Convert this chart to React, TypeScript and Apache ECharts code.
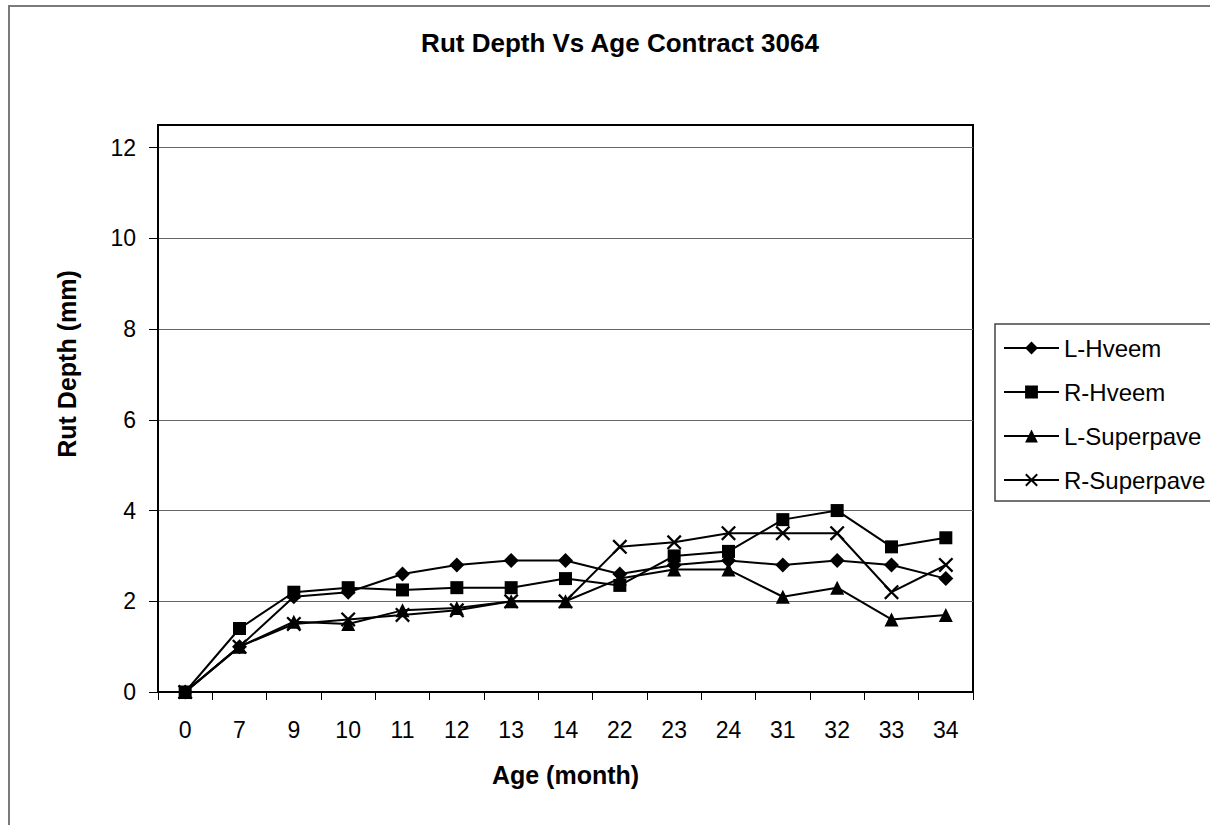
import React, { useEffect, useRef } from "react";
import * as echarts from "echarts";

// Age of the pavement sections (months since construction)
const ages = ["0", "7", "9", "10", "11", "12", "13", "14", "22", "23", "24", "31", "32", "33", "34"];

// Rut depth (mm) per section
const lHveem = [0, 1.0, 2.1, 2.2, 2.6, 2.8, 2.9, 2.9, 2.6, 2.8, 2.9, 2.8, 2.9, 2.8, 2.5];
const rHveem = [0, 1.4, 2.2, 2.3, 2.25, 2.3, 2.3, 2.5, 2.35, 3.0, 3.1, 3.8, 4.0, 3.2, 3.4];
const lSuperpave = [0, 1.0, 1.55, 1.5, 1.8, 1.85, 2.0, 2.0, 2.5, 2.7, 2.7, 2.1, 2.3, 1.6, 1.7];
const rSuperpave = [0, 1.0, 1.5, 1.6, 1.7, 1.8, 2.0, 2.0, 3.2, 3.3, 3.5, 3.5, 3.5, 2.2, 2.8];

const seriesNames = ["L-Hveem", "R-Hveem", "L-Superpave", "R-Superpave"];
const yTickValues = [0, 2, 4, 6, 8, 10, 12];

const FONT = "'Liberation Sans', Arial, sans-serif";
const CROSS =
  "path://M0,1.3L1.3,0L6,4.7L10.7,0L12,1.3L7.3,6L12,10.7L10.7,12L6,7.3L1.3,12L0,10.7L4.7,6Z";

export default function App() {
  const ref = useRef<HTMLDivElement>(null);

  useEffect(() => {
    if (!ref.current) return;
    const chart = echarts.init(ref.current, null, { renderer: "svg" });

    const markers = [
      { symbol: "diamond", size: 15 },
      { symbol: "rect", size: 13 },
      { symbol: "triangle", size: 14 },
      { symbol: CROSS, size: 15 },
    ];
    const values = [lHveem, rHveem, lSuperpave, rSuperpave];

    chart.setOption({
      animation: false,
      backgroundColor: "#ffffff",
      textStyle: { fontFamily: FONT, color: "#000" },
      graphic: [
        {
          type: "rect",
          shape: { x: 9, y: 6, width: 1400, height: 1000 },
          style: { fill: "none", stroke: "#7a7a7a", lineWidth: 2 },
          silent: true,
        },
        {
          type: "text",
          x: 620,
          y: 43,
          style: {
            text: "Rut Depth Vs Age Contract 3064",
            fontFamily: FONT,
            fontSize: 26,
            fontWeight: "bold",
            fill: "#000",
            align: "center",
            verticalAlign: "middle",
          },
        },
        {
          type: "text",
          x: 67,
          y: 364,
          rotation: Math.PI / 2,
          style: {
            text: "Rut Depth (mm)",
            fontFamily: FONT,
            fontSize: 25,
            fontWeight: "bold",
            fill: "#000",
            align: "center",
            verticalAlign: "middle",
          },
        },
      ],
      legend: {
        orient: "vertical",
        left: 995,
        top: 324,
        padding: [12, 30, 9, 8],
        itemGap: 20,
        itemWidth: 55,
        itemHeight: 16,
        borderColor: "#444",
        borderWidth: 1.5,
        backgroundColor: "#fff",
        textStyle: { fontFamily: FONT, fontSize: 24, color: "#000" },
        data: seriesNames,
      },
      grid: {
        left: 158,
        right: 237,
        top: 125,
        bottom: 133,
        show: true,
        borderColor: "#000",
        borderWidth: 2,
        backgroundColor: "#fff",
      },
      xAxis: {
        type: "category",
        data: ages,
        boundaryGap: true,
        name: "Age (month)",
        nameLocation: "middle",
        nameGap: 70,
        nameTextStyle: { fontFamily: FONT, fontSize: 25, fontWeight: "bold", color: "#000" },
        axisLine: { lineStyle: { color: "#000", width: 2 } },
        axisTick: { show: true, length: 8, lineStyle: { color: "#000", width: 1 } },
        axisLabel: { fontFamily: FONT, fontSize: 23, color: "#000", margin: 26 },
        splitLine: { show: false },
      },
      yAxis: {
        type: "value",
        min: 0,
        max: 12.5,
        interval: 2,
        axisLine: { show: true, lineStyle: { color: "#000", width: 2 } },
        axisTick: {
          show: true,
          length: 9,
          customValues: yTickValues,
          lineStyle: { color: "#000", width: 1 },
        },
        axisLabel: {
          fontFamily: FONT,
          fontSize: 23,
          color: "#000",
          margin: 22,
          customValues: yTickValues,
        },
        splitLine: { show: true, lineStyle: { color: "#666", width: 1 } },
      },
      series: seriesNames.map((name, i) => ({
        name,
        type: "line",
        data: values[i],
        symbol: markers[i].symbol,
        symbolSize: markers[i].size,
        showAllSymbol: true,
        itemStyle: { color: "#000" },
        lineStyle: { color: "#000", width: 2 },
        z: 3 + i,
      })),
    });

    return () => chart.dispose();
  }, []);

  return (
    <div
      ref={ref}
      style={{ position: "fixed", left: 0, top: 0, width: 1210, height: 825, background: "#fff" }}
    />
  );
}
